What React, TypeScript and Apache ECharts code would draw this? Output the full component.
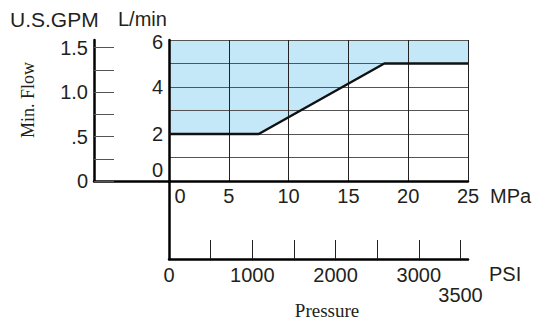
import React, { useEffect, useRef } from "react";
import * as echarts from "echarts";

// Boundary of the minimum-flow region (MPa, L/min)
const pressureMPa = [0, 7.5, 18, 25];
const minFlowLmin = [2, 2, 5, 5];

// Axis tick values
const mpaTicks = [0, 5, 10, 15, 20, 25];
const lminLabels = [0, 2, 4, 6];
const gpmTicks = [0, 0.25, 0.5, 0.75, 1.0, 1.25, 1.5];
const gpmLabels = [0, 0.5, 1.0, 1.5];
const gpmLabelText = ["0", ".5", "1.0", "1.5"];
const psiTicks = [500, 1000, 1500, 2000, 2500, 3000, 3500];
const psiLabels = [0, 1000, 2000, 3000, 3500];

const LMIN_MAX = 6;
const GPM_MAX = 6 / 3.785;
const MPA_MAX = 25;
const PSI_MAX = 3590;

const SANS = "'Liberation Sans', Arial, sans-serif";
const SERIF = "'Liberation Serif', 'Times New Roman', serif";
const INK = "#231f20";

export default function App() {
  const ref = useRef<HTMLDivElement>(null);

  useEffect(() => {
    if (!ref.current) return;
    const chart = echarts.init(ref.current, undefined, { renderer: "svg" });
    const data = pressureMPa.map((p, i) => [p, minFlowLmin[i]]);

    const option: any = {
      animation: false,
      backgroundColor: "#ffffff",
      grid: [
        { left: 169, top: 40, right: 68, bottom: 139 },
        { left: 94, top: 40, width: 75, bottom: 139 },
        { left: 169, top: 181, right: 68, bottom: 61 },
      ],
      xAxis: [
        {
          type: "value",
          gridIndex: 0,
          min: 0,
          max: MPA_MAX,
          interval: 5,
          z: 3,
          name: "MPa",
          nameLocation: "end",
          nameGap: 22,
          nameTextStyle: {
            fontFamily: SANS,
            fontSize: 20,
            color: INK,
            align: "left",
            verticalAlign: "top",
            padding: [5, 0, 0, 0],
          },
          axisLine: { show: true, lineStyle: { color: "#000", width: 2.5 } },
          axisTick: { show: false },
          splitLine: { show: true, lineStyle: { color: "#222", width: 1 } },
          axisLabel: {
            customValues: mpaTicks,
            margin: 5,
            fontFamily: SANS,
            fontSize: 20,
            color: INK,
            formatter: (v: number) => (v === 0 ? "{z|0}" : String(v)),
            rich: { z: { fontFamily: SANS, fontSize: 20, color: INK, padding: [0, 0, 0, 22] } },
          },
        },
        {
          type: "value",
          gridIndex: 1,
          min: 0,
          max: 1,
          axisLine: { show: true, lineStyle: { color: "#000", width: 2.5 } },
          axisTick: { show: false },
          splitLine: { show: false },
          axisLabel: { show: false },
        },
        {
          type: "value",
          gridIndex: 2,
          min: 0,
          max: PSI_MAX,
          name: "PSI",
          nameLocation: "end",
          nameGap: 21,
          nameTextStyle: {
            fontFamily: SANS,
            fontSize: 20,
            color: INK,
            align: "left",
            verticalAlign: "top",
            padding: [5, 0, 0, 0],
          },
          axisLine: { show: true, lineStyle: { color: "#000", width: 2.5 } },
          axisTick: {
            show: true,
            inside: true,
            length: 19,
            customValues: psiTicks,
            lineStyle: { color: INK, width: 1 },
          },
          splitLine: { show: false },
          axisLabel: {
            customValues: psiLabels,
            margin: 6,
            fontFamily: SANS,
            fontSize: 20,
            color: INK,
            formatter: (v: number) => (v === 3500 ? "{d|3500}" : String(v)),
            rich: { d: { fontFamily: SANS, fontSize: 20, color: INK, padding: [20, 0, 0, 0] } },
          },
        },
      ],
      yAxis: [
        {
          type: "value",
          gridIndex: 0,
          min: 0,
          max: LMIN_MAX,
          interval: 1,
          z: 3,
          axisLine: { show: true, lineStyle: { color: "#000", width: 2.5 } },
          axisTick: { show: false },
          splitLine: { show: true, lineStyle: { color: "#555", width: 1 } },
          axisLabel: {
            customValues: lminLabels,
            margin: 6,
            fontFamily: SANS,
            fontSize: 20,
            color: INK,
            formatter: (v: number) => (v === 0 ? "{z|0}" : v === 6 ? "{t|6}" : String(v)),
            rich: {
              z: { fontFamily: SANS, fontSize: 20, color: INK, padding: [0, 0, 22, 0] },
              t: { fontFamily: SANS, fontSize: 20, color: INK, padding: [4, 0, 0, 0] },
            },
          },
        },
        {
          type: "value",
          gridIndex: 1,
          min: 0,
          max: GPM_MAX,
          axisLine: { show: true, lineStyle: { color: "#000", width: 2.5 } },
          axisTick: {
            show: true,
            inside: true,
            length: 20,
            customValues: gpmTicks,
            lineStyle: { color: "#555", width: 1 },
          },
          splitLine: { show: false },
          axisLabel: {
            customValues: gpmLabels,
            margin: 6,
            fontFamily: SANS,
            fontSize: 20,
            color: INK,
            formatter: (v: number) => {
              const i = gpmLabels.findIndex((g) => Math.abs(g - v) < 1e-6);
              return i >= 0 ? gpmLabelText[i] : "";
            },
          },
        },
        {
          type: "value",
          gridIndex: 2,
          min: 0,
          max: 1,
          axisLine: { show: true, lineStyle: { color: "#000", width: 2.5 } },
          axisTick: { show: false },
          splitLine: { show: false },
          axisLabel: { show: false },
        },
      ],
      series: [
        {
          type: "line",
          xAxisIndex: 0,
          yAxisIndex: 0,
          data,
          symbol: "none",
          z: 2,
          lineStyle: { width: 0, color: "#c5e8f8" },
          areaStyle: { origin: "end", color: "#c5e8f8", opacity: 1 },
          silent: true,
        },
        {
          type: "line",
          xAxisIndex: 0,
          yAxisIndex: 0,
          data,
          symbol: "none",
          z: 4,
          lineStyle: { width: 2.5, color: "#111" },
          silent: true,
        },
      ],
      graphic: [
        {
          type: "text",
          left: 10,
          top: 9,
          style: { text: "U.S.GPM", font: `21px ${SANS}`, fill: INK },
        },
        {
          type: "text",
          left: 118,
          top: 9,
          style: { text: "L/min", font: `20px ${SANS}`, fill: INK },
        },
        {
          type: "text",
          x: 28,
          y: 100,
          rotation: Math.PI / 2,
          style: {
            text: "Min. Flow",
            font: `18px ${SERIF}`,
            fill: INK,
            align: "center",
            verticalAlign: "middle",
          },
        },
        {
          type: "text",
          x: 327,
          y: 310,
          style: {
            text: "Pressure",
            font: `19px ${SERIF}`,
            fill: INK,
            align: "center",
            verticalAlign: "middle",
          },
        },
      ],
    };

    chart.setOption(option);
    return () => chart.dispose();
  }, []);

  return (
    <div
      ref={ref}
      style={{ position: "fixed", left: 0, top: 0, width: 536, height: 320 }}
    />
  );
}
